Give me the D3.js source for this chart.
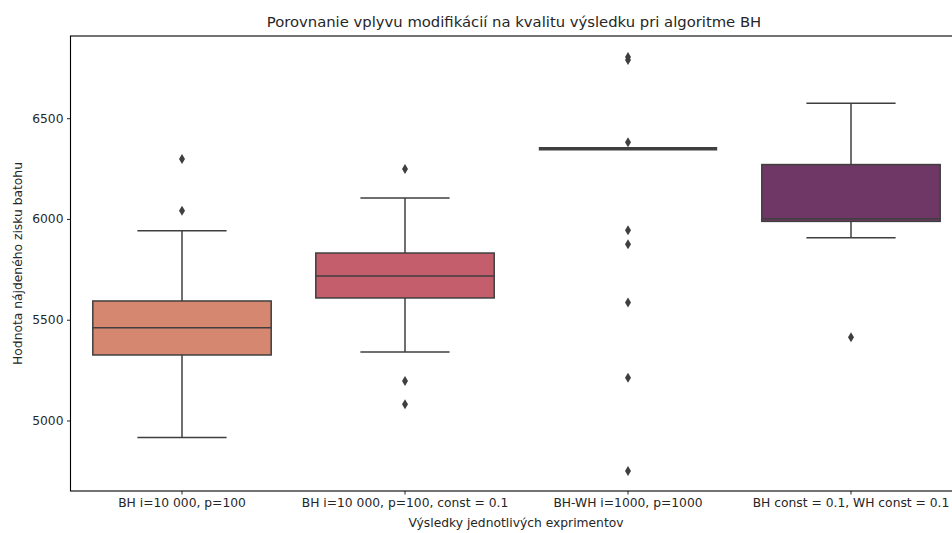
<!DOCTYPE html>
<html>
<head>
<meta charset="utf-8">
<title>Porovnanie vplyvu modifikácií</title>
<style type="text/css">
	body { margin: 0; background: white; }
	#chart { display: block; }
	text { font-family: "DejaVu Sans", sans-serif; fill: #262626; }
	.title { font-size: 14.8px; text-anchor: middle; }
	.axisLabel { font-size: 12.3px; text-anchor: middle; }
	.tick text { font-size: 12.3px; fill: #262626; font-family: "DejaVu Sans", sans-serif; }
</style>
</head>
<body>

<svg id="chart" width="952" height="533"></svg>

<script src="https://cdn.jsdelivr.net/npm/d3@7"></script>
<script>

var categories = ['BH i=10 000, p=100', 'BH i=10 000, p=100, const = 0.1', 'BH-WH i=1000, p=1000', 'BH const = 0.1, WH const = 0.1'];

// box statistics
var q1s      = [5325, 5608, 6349, 5988];
var medians  = [5460, 5717, 6349, 6001];
var q3s      = [5593, 5831, 6349, 6270];
var whiskLo  = [4915, 5340, 6349, 5907];
var whiskHi  = [5942, 6104, 6349, 6574];
var outliers = [
	[6298, 6041],
	[6248, 5196, 5081],
	[6804, 6789, 6381, 5944, 5874, 5586, 5212, 4749],
	[5413]
];

var yTicks = [5000, 5500, 6000, 6500];
var colors = ['#d6876f', '#c45d6c', '#93406a', '#6f3766'];

var svg = d3.select('#chart');

var plotLeft = 70.5, plotRight = 962.5, plotTop = 36, plotBottom = 491;

var x = d3.scaleBand()
	.domain(categories)
	.range([plotLeft, plotRight])
	.padding(0);

var y = d3.scaleLinear()
	.domain([4650, 6908])
	.range([plotBottom, plotTop]);

var boxW = x.bandwidth() * 0.8,
	capW = boxW / 2,
	lineColor = '#3f3f3f';

var boxes = categories.map(function(c, i) {
	return {cat: c, q1: q1s[i], med: medians[i], q3: q3s[i], lo: whiskLo[i], hi: whiskHi[i], out: outliers[i], color: colors[i]};
});

var g = svg.selectAll('.box')
	.data(boxes)
	.enter()
	.append('g')
	.classed('box', true)
	.attr('transform', function(d) { return 'translate(' + (x(d.cat) + x.bandwidth() / 2) + ',0)'; });

// whiskers
g.append('line')
	.attr('x1', 0).attr('x2', 0)
	.attr('y1', function(d) { return y(d.q3); })
	.attr('y2', function(d) { return y(d.hi); })
	.attr('stroke', lineColor).attr('stroke-width', 1.5);
g.append('line')
	.attr('x1', 0).attr('x2', 0)
	.attr('y1', function(d) { return y(d.q1); })
	.attr('y2', function(d) { return y(d.lo); })
	.attr('stroke', lineColor).attr('stroke-width', 1.5);

// caps
g.selectAll('.cap')
	.data(function(d) { return [d.lo, d.hi]; })
	.enter()
	.append('line')
	.classed('cap', true)
	.attr('x1', -capW / 2).attr('x2', capW / 2)
	.attr('y1', function(v) { return y(v); })
	.attr('y2', function(v) { return y(v); })
	.attr('stroke', lineColor).attr('stroke-width', 1.5);

// box
g.append('rect')
	.attr('x', -boxW / 2)
	.attr('width', boxW)
	.attr('y', function(d) { return y(d.q3); })
	.attr('height', function(d) { return y(d.q1) - y(d.q3); })
	.attr('fill', function(d) { return d.color; })
	.attr('stroke', lineColor)
	.attr('stroke-width', function(d) { return d.q1 === d.q3 ? 3 : 1.5; });

// median
g.append('line')
	.attr('x1', -boxW / 2).attr('x2', boxW / 2)
	.attr('y1', function(d) { return y(d.med); })
	.attr('y2', function(d) { return y(d.med); })
	.attr('stroke', lineColor)
	.attr('stroke-width', function(d) { return d.q1 === d.q3 ? 3.5 : 1.5; });

// outliers, thin diamonds
g.selectAll('.flier')
	.data(function(d) { return d.out; })
	.enter()
	.append('path')
	.classed('flier', true)
	.attr('d', 'M0,-5L3,0L0,5L-3,0Z')
	.attr('transform', function(v) { return 'translate(0,' + y(v) + ')'; })
	.attr('fill', lineColor);

// axes
svg.append('g')
	.attr('transform', 'translate(' + plotLeft + ',0)')
	.call(d3.axisLeft(y).tickValues(yTicks).tickFormat(d3.format('d')).tickSize(3.5).tickPadding(3.5));

svg.append('g')
	.attr('transform', 'translate(0,' + plotBottom + ')')
	.call(d3.axisBottom(x).tickSize(3.5).tickPadding(3.5));

svg.selectAll('.domain').remove();
svg.selectAll('.tick line').attr('stroke', '#262626').attr('stroke-width', 1);

// spines
svg.append('rect')
	.attr('x', plotLeft).attr('y', plotTop)
	.attr('width', plotRight - plotLeft).attr('height', plotBottom - plotTop)
	.attr('fill', 'none')
	.attr('stroke', '#000').attr('stroke-width', 1.1);

svg.append('text')
	.classed('title', true)
	.attr('x', 514)
	.attr('y', 27)
	.text('Porovnanie vplyvu modifikácií na kvalitu výsledku pri algoritme BH');

svg.append('text')
	.classed('axisLabel', true)
	.attr('x', 516)
	.attr('y', 527)
	.text('Výsledky jednotlivých exprimentov');

svg.append('text')
	.classed('axisLabel', true)
	.attr('transform', 'translate(22,' + ((plotTop + plotBottom) / 2) + ') rotate(-90)')
	.text('Hodnota nájdeného zisku batohu');

</script>
</body>
</html>
